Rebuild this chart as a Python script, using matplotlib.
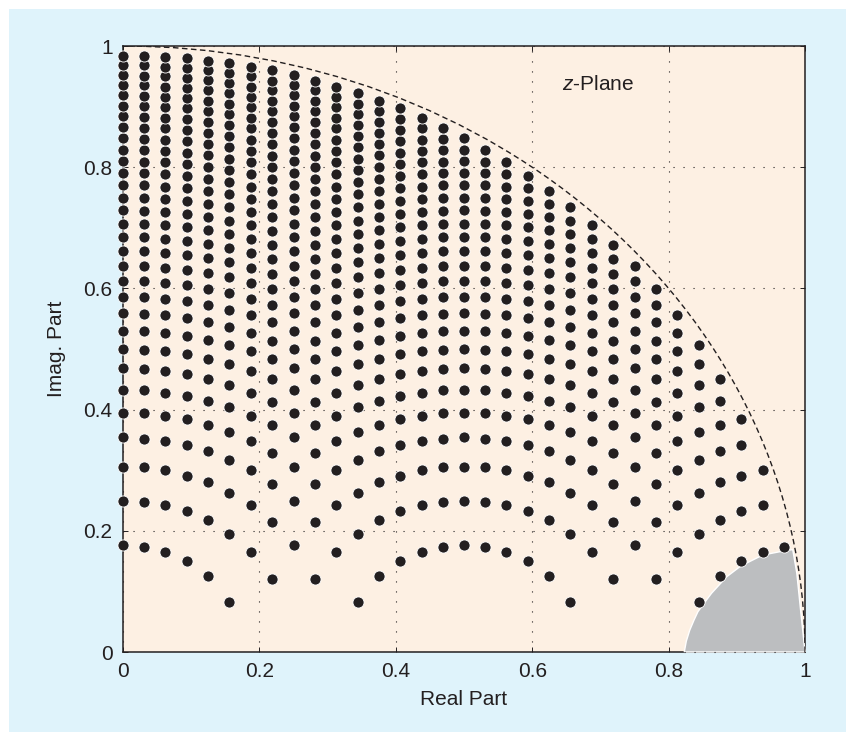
from matplotlib import pyplot as plt
from matplotlib.patches import Arc, Polygon, Rectangle

plt.rcParams['font.family'] = ['Liberation Sans', 'DejaVu Sans']
plt.rcParams['mathtext.fontset'] = 'custom'
plt.rcParams['mathtext.it'] = 'Liberation Sans:italic'
plt.rcParams['mathtext.rm'] = 'Liberation Sans'

ink = '#231f20'

# real part of each column of poles
x_cols = [0, .031, .062, .094, .125, .156, .188, .219, .25, .281, .312, .344, .375, .406, .438, .469,
          .5, .531, .562, .594, .625, .656, .688, .719, .75, .781, .812, .844, .875, .906, .938, .969]

# imag part of the poles in each column, read bottom to top
y00 = [.177, .250, .306, .354, .395, .433, .468, .500, .530, .559, .586, .612, .637, .661, .685, .707, .729, .750, .771, .791, .810, .829, .848, .866, .884, .901, .919, .935, .952, .968, .984]
y01 = [.174, .248, .305, .352, .394, .432, .467, .499, .529, .558, .585, .612, .637, .661, .684, .706, .728, .749, .770, .790, .809, .829, .847, .865, .883, .901, .918, .935, .951, .968, .984]
y02 = [.165, .242, .300, .348, .390, .428, .464, .496, .527, .556, .583, .609, .634, .658, .682, .704, .726, .747, .768, .788, .808, .827, .845, .864, .882, .899, .916, .933, .950, .966, .982]
y03 = [.150, .232, .291, .341, .384, .423, .458, .491, .522, .551, .579, .605, .630, .655, .678, .701, .723, .744, .765, .785, .805, .824, .843, .861, .879, .897, .914, .931, .947, .964, .980]
y04 = [.125, .217, .280, .331, .375, .415, .451, .484, .515, .545, .573, .599, .625, .650, .673, .696, .718, .740, .760, .781, .800, .820, .839, .857, .875, .893, .910, .927, .944, .960, .976]
y05 = [.083, .195, .263, .317, .363, .404, .441, .475, .507, .537, .565, .592, .618, .643, .667, .690, .712, .734, .755, .775, .795, .814, .833, .852, .870, .888, .905, .922, .939, .956, .972]
y06 = [.165, .242, .300, .348, .390, .428, .464, .496, .527, .556, .583, .609, .634, .658, .682, .704, .726, .747, .768, .788, .808, .827, .845, .864, .882, .899, .916, .933, .950, .966]
y07 = [.121, .214, .278, .329, .374, .413, .450, .483, .514, .544, .572, .599, .624, .649, .672, .695, .717, .739, .760, .780, .800, .819, .838, .856, .874, .892, .909, .927, .943, .960]
y08 = [.177, .250, .306, .354, .395, .433, .468, .500, .530, .559, .586, .612, .637, .661, .685, .707, .729, .750, .771, .791, .810, .829, .848, .866, .884, .901, .919, .935, .952]
y09 = [.121, .214, .278, .329, .374, .413, .450, .483, .514, .544, .572, .599, .624, .649, .672, .695, .717, .739, .760, .780, .800, .819, .838, .856, .874, .892, .909, .927, .943]
y10 = [.165, .242, .300, .348, .390, .428, .464, .496, .527, .556, .583, .609, .634, .658, .682, .704, .726, .747, .768, .788, .808, .827, .845, .864, .882, .899, .916, .933]
y11 = [.083, .195, .263, .317, .363, .404, .441, .475, .507, .537, .565, .592, .618, .643, .667, .690, .712, .734, .755, .775, .795, .814, .833, .852, .870, .888, .905, .922]
y12 = [.125, .217, .280, .331, .375, .415, .451, .484, .515, .545, .573, .599, .625, .650, .673, .696, .718, .740, .760, .781, .800, .820, .839, .857, .875, .893, .910]
y13 = [.150, .232, .291, .341, .384, .423, .458, .491, .522, .551, .579, .605, .630, .655, .678, .701, .723, .744, .765, .785, .805, .824, .843, .861, .879, .897]
y14 = [.165, .242, .300, .348, .390, .428, .464, .496, .527, .556, .583, .609, .634, .658, .682, .704, .726, .747, .768, .788, .808, .827, .845, .864, .882]
y15 = [.174, .248, .305, .352, .394, .432, .467, .499, .529, .558, .585, .612, .637, .661, .684, .706, .728, .749, .770, .790, .809, .829, .847, .865]
y16 = [.177, .250, .306, .354, .395, .433, .468, .500, .530, .559, .586, .612, .637, .661, .685, .707, .729, .750, .771, .791, .810, .829, .848]
y17 = [.174, .248, .305, .352, .394, .432, .467, .499, .529, .558, .585, .612, .637, .661, .684, .706, .728, .749, .770, .790, .809, .829]
y18 = [.165, .242, .300, .348, .390, .428, .464, .496, .527, .556, .583, .609, .634, .658, .682, .704, .726, .747, .768, .788, .808]
y19 = [.150, .232, .291, .341, .384, .423, .458, .491, .522, .551, .579, .605, .630, .655, .678, .701, .723, .744, .765, .785]
y20 = [.125, .217, .280, .331, .375, .415, .451, .484, .515, .545, .573, .599, .625, .650, .673, .696, .718, .740, .760]
y21 = [.083, .195, .263, .317, .363, .404, .441, .475, .507, .537, .565, .592, .618, .643, .667, .690, .712, .734]
y22 = [.165, .242, .300, .348, .390, .428, .464, .496, .527, .556, .583, .609, .634, .658, .682, .704]
y23 = [.121, .214, .278, .329, .374, .413, .450, .483, .514, .544, .572, .599, .624, .649, .672]
y24 = [.177, .250, .306, .354, .395, .433, .468, .500, .530, .559, .586, .612, .637]
y25 = [.121, .214, .278, .329, .374, .413, .450, .483, .514, .544, .572, .599]
y26 = [.165, .242, .300, .348, .390, .428, .464, .496, .527, .556]
y27 = [.083, .195, .263, .317, .363, .404, .441, .475, .507]
y28 = [.125, .217, .280, .331, .375, .415, .451]
y29 = [.150, .232, .291, .341, .384]
y30 = [.165, .242, .300]
y31 = [.174]

y_cols = [y00, y01, y02, y03, y04, y05, y06, y07, y08, y09, y10, y11, y12, y13, y14, y15,
          y16, y17, y18, y19, y20, y21, y22, y23, y24, y25, y26, y27, y28, y29, y30, y31]

# outline of the empty region next to z = 1
gray_x = [.823, .826, .831, .837, .843, .853, .863, .885, .906, .938, .970, .982, .988, .993, 1, 1]
gray_y = [0, .018, .036, .052, .0665, .082, .097, .124, .142, .160, .167, .169, .13, .075, 0, 0]

ticks = [0, .2, .4, .6, .8, 1]
tick_labels = ['0', '0.2', '0.4', '0.6', '0.8', '1']

fig = plt.figure(figsize=(8.46, 7.32), dpi=100, facecolor='white')
fig.patches.append(Rectangle((9 / 846, 0), 837 / 846, 723 / 732, transform=fig.transFigure,
                             facecolor='#dff3fb', edgecolor='none', figure=fig, zorder=-1))

ax = fig.add_axes([123 / 846, 1 - 652 / 732, 682 / 846, 606 / 732])
ax.set_facecolor('#fdf0e3')
ax.set_xlim(0, 1)
ax.set_ylim(0, 1)
ax.set_xticks(ticks)
ax.set_yticks(ticks)
ax.set_xticklabels(tick_labels)
ax.set_yticklabels(tick_labels)
ax.tick_params(direction='in', length=3.5, width=.7, color=ink, labelcolor=ink, labelsize=15,
               top=True, right=True)
ax.tick_params(axis='x', pad=7)
ax.tick_params(axis='y', pad=7.5)
ax.grid(True, color=ink, linewidth=.8, linestyle=(0, (1, 8)), zorder=1)
ax.set_axisbelow(True)
for s in ax.spines.values():
    s.set_linewidth(1.1)
    s.set_color(ink)

ax.add_patch(Polygon(list(zip(gray_x, gray_y)), closed=True, facecolor='#bcbec0', edgecolor='white',
                     linewidth=1, zorder=2.6, clip_on=False))
ax.plot([gray_x[0], 1], [0, 0], color=ink, linewidth=.8, linestyle=(0, (1, 8)), zorder=2.7, clip_on=False)

ax.add_patch(Arc((0, 0), 2, 2, theta1=0, theta2=90, color=ink, linewidth=1, linestyle=(0, (4, 2.5)), zorder=3))

for x, ys in zip(x_cols, y_cols):
    ax.plot([x] * len(ys), ys, 'o', color=ink, markersize=8, markeredgecolor='white',
            markeredgewidth=.6, zorder=4, clip_on=False)

ax.text(.644, .927, r'$\mathit{z}$-Plane', color=ink, fontsize=15, va='baseline')
ax.set_xlabel('Real Part', color=ink, fontsize=15, labelpad=7)
ax.set_ylabel('Imag. Part', color=ink, fontsize=15, labelpad=12.5)

fig.savefig('out.png', dpi=100, facecolor=fig.get_facecolor())
